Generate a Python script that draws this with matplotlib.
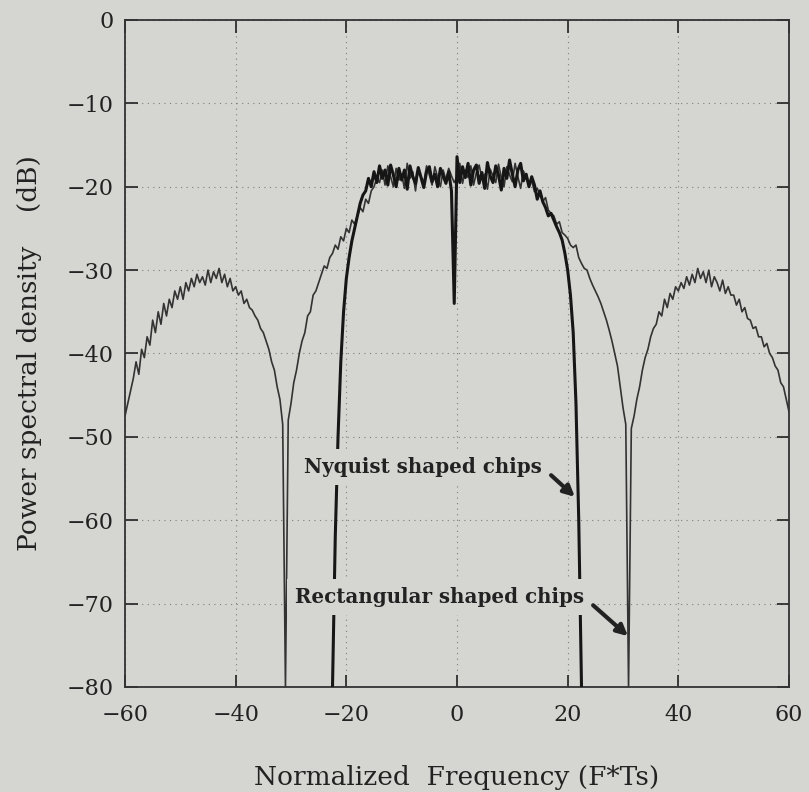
import numpy as np
import matplotlib
matplotlib.use('Agg')
import matplotlib.pyplot as plt

# power spectral density (dB), frequency step 0.5 (F*Ts)
rect_f0, rect_f1 = -60.0, 60.0
rect_psd = [
    -47.5, -46.0, -44.5, -43.0, -41.0, -42.5, -39.5, -40.5, -38.0, -39.0,
    -36.0, -37.5, -35.0, -36.5, -34.0, -35.5, -33.5, -34.5, -32.5, -33.5,
    -32.0, -33.5, -31.5, -32.5, -31.0, -32.0, -30.5, -31.5, -30.8, -31.8,
    -30.0, -31.5, -30.2, -31.0, -29.8, -31.5, -30.5, -32.0, -31.0, -32.5,
    -32.0, -33.0, -32.5, -34.0, -33.5, -34.5, -34.8, -35.5, -36.0, -37.0,
    -37.5, -38.5, -39.5, -41.0, -42.0, -44.0, -45.5, -48.5, -80.0, -48.0,
    -46.0, -43.5, -42.0, -40.0, -38.5, -37.5, -35.5, -35.0, -33.0, -32.5,
    -31.5, -30.5, -29.5, -29.8, -28.5, -28.0, -27.0, -27.5, -26.0, -26.5,
    -25.0, -25.5, -24.0, -24.5, -23.5, -22.5, -23.0, -21.5, -22.0, -20.5,
    -20.0, -19.0, -19.5, -18.0, -19.8, -17.5, -18.8, -20.0, -17.8, -19.2,
    -18.5, -20.2, -17.2, -19.0, -18.2, -20.5, -17.8, -18.8, -19.5, -17.5,
    -18.6, -19.8, -17.6, -18.9, -20.0, -18.0, -19.2, -17.8, -18.7, -19.5,
    -18.8, -17.2, -19.6, -18.0, -18.9, -17.5, -19.8, -18.3, -17.4, -19.0,
    -18.5, -20.3, -17.9, -18.7, -19.5, -17.3, -18.9, -20.0, -17.6, -18.6,
    -19.4, -17.2, -18.8, -20.2, -18.1, -19.0, -19.8, -19.3, -20.6, -20.2,
    -21.0, -21.8, -21.3, -22.8, -23.2, -23.5, -24.5, -24.2, -25.5, -25.8,
    -26.2, -27.0, -27.3, -27.0, -28.5, -29.2, -29.8, -30.0, -31.0, -31.8,
    -32.5, -33.2, -34.0, -35.0, -36.0, -37.2, -38.5, -40.0, -41.5, -44.0,
    -46.5, -48.5, -80.0, -49.0, -47.5, -45.5, -44.0, -42.0, -40.5, -39.5,
    -38.0, -37.0, -36.5, -35.0, -35.5, -33.5, -34.5, -32.8, -33.5, -32.0,
    -32.5, -31.5, -32.2, -30.8, -31.8, -30.5, -31.5, -29.8, -31.0, -30.2,
    -31.5, -30.0, -32.0, -30.8, -31.5, -32.5, -31.2, -32.8, -32.0, -33.0,
    -33.0, -34.2, -33.5, -35.0, -34.5, -35.8, -36.0, -37.0, -36.8, -38.0,
    -38.0, -39.2, -38.8, -40.0, -40.5, -41.5, -42.0, -43.5, -44.0, -45.5,
    -47.0,
]

nyq_f0, nyq_f1 = -22.5, 22.5
nyq_psd = [
    -80.0, -62.0, -50.0, -41.0, -35.0, -31.0, -28.5, -26.5, -25.0, -23.5,
    -22.0, -21.0, -20.5, -19.0, -20.0, -18.2, -19.5, -17.5, -19.0, -18.0,
    -19.8, -17.4, -18.6, -20.0, -17.8, -19.2, -18.0, -20.3, -17.5, -18.8,
    -19.6, -17.7, -18.9, -20.1, -18.2, -17.6, -19.4, -18.5, -20.0, -17.8,
    -18.7, -19.6, -18.2, -20.5, -34.0, -16.4, -19.5, -17.6, -18.9, -17.2,
    -19.8, -18.0, -17.4, -19.6, -18.3, -20.2, -17.1, -18.7, -19.5, -17.5,
    -18.6, -20.4, -17.8, -19.0, -16.8, -18.5, -20.0, -18.0, -17.2, -19.3,
    -18.5, -20.0, -18.8, -19.8, -21.5, -20.5, -21.8, -22.5, -23.5, -23.2,
    -24.0, -24.8, -25.5, -26.4, -28.0, -30.0, -33.0, -37.5, -46.0, -60.0,
    -80.0,
]

rect_f = np.linspace(rect_f0, rect_f1, len(rect_psd))
nyq_f = np.linspace(nyq_f0, nyq_f1, len(nyq_psd))

bg = '#d5d5d1'
ink = '#222222'
plt.rcParams['font.family'] = ['DejaVu Serif']

fig = plt.figure(figsize=(8.09, 7.92), dpi=100, facecolor=bg)
ax = fig.add_axes([0.1545, 0.1326, 0.8208, 0.8422], facecolor=bg)

ax.plot(rect_f, rect_psd, color='#333333', lw=1.2, zorder=2)
ax.plot(nyq_f, nyq_psd, color='#161616', lw=2.2, zorder=3)

ax.set_xlim(-60, 60)
ax.set_ylim(-80, 0)
ax.set_xticks(np.arange(-60, 61, 20))
ax.set_yticks(np.arange(-80, 1, 10))
ax.grid(True, linestyle=(0, (1, 4)), color='#7d7d7d', lw=0.8)
ax.tick_params(direction='in', top=True, right=True, length=9, width=1.2,
               labelsize=16, pad=8, colors=ink)
ax.tick_params(axis='x', pad=12)
for s in ax.spines.values():
    s.set_color('#333333')
    s.set_linewidth(1.3)

ax.set_xlabel('Normalized  Frequency (F*Ts)', fontsize=19, color=ink, labelpad=28)
ax.set_ylabel('Power spectral density    (dB)', fontsize=19, color=ink, labelpad=18)

box = dict(facecolor=bg, edgecolor='none', pad=6)
ax.text(-27.7, -53.6, 'Nyquist shaped chips', fontsize=14.3, fontweight='bold',
        color=ink, va='center', ha='left', bbox=box, zorder=5)
ax.text(-29.3, -69.2, 'Rectangular shaped chips', fontsize=14.3, fontweight='bold',
        color=ink, va='center', ha='left', bbox=box, zorder=5)
arrow = dict(arrowstyle='-|>', lw=3, color=ink, mutation_scale=16, shrinkA=0, shrinkB=0)
ax.annotate('', xy=(21.3, -57.2), xytext=(17.0, -54.6), arrowprops=arrow, zorder=6)
ax.annotate('', xy=(30.9, -73.9), xytext=(24.6, -70.2), arrowprops=arrow, zorder=6)

fig.savefig('out.png', dpi=100, facecolor=bg)
